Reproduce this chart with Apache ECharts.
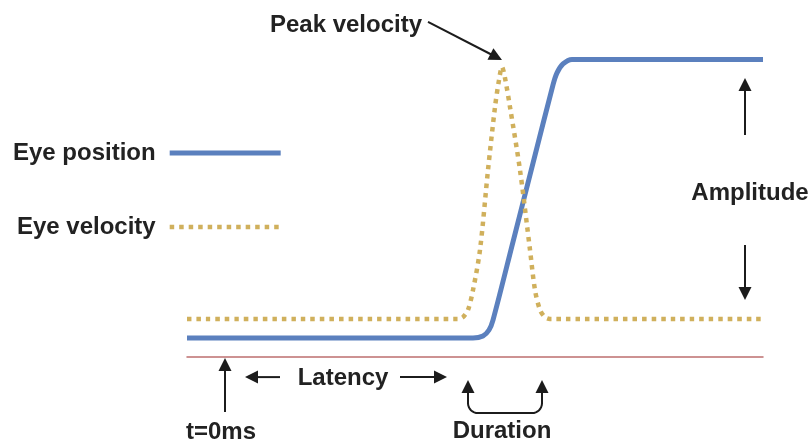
<!DOCTYPE html>
<html><head><meta charset="utf-8">
<script src="https://cdn.jsdelivr.net/npm/echarts@6/dist/echarts.min.js"></script>
<style>html,body{margin:0;padding:0;background:#fff}#c{width:810px;height:443px}</style>
</head><body><div id="c"></div>
<script>
// time axis (arbitrary ms-like units) and signal level (0-100 % of amplitude)
const seriesNames = ['Eye position', 'Eye velocity'];
const positionX = [0, 143, 148, 151, 153, 163, 173, 183, 185, 188, 192.5, 288];
const positionY = [6.3, 6.3, 7, 9, 12.3, 38.4, 64.6, 90.7, 94.7, 97.7, 99.2, 99.2];
const velocityX = [0, 135.5, 138, 140.5, 143, 146.5, 150.5, 154, 156, 157.5, 159, 161.5, 166.5, 171.5, 174, 176.5, 179, 181.5, 288];
const velocityY = [12.7, 12.7, 13.3, 15.7, 22.3, 35.7, 62.3, 83.3, 92.3, 96.7, 93, 83.3, 62.3, 35.7, 22.3, 15.7, 13.3, 12.7, 12.7];

// annotation labels and arrows, anchored in data coordinates
const annotationLabels = [
  ['Peak velocity', 79.5, 110.7],
  ['Amplitude', 281.5, 54.7],
  ['t=0ms', 17, -25],
  ['Latency', 78, -7],
  ['Duration', 157.5, -24.7]
];
const annotationArrows = [
  [120.5, 111.7, 157.5, 99],
  [279, 74, 279, 93],
  [279, 37.3, 279, 19],
  [19, -18.3, 19, -0.3],
  [46.5, -6.7, 29, -6.7],
  [106.5, -6.7, 130, -6.7]
];
const durationBracket = [140.5, 177.5, -7.7, -18.7]; // left, right, tip level, bottom level

const FONT = "'Liberation Sans', Arial, sans-serif";
const INK = '#1c1c1c';
const BLUE = '#5b80be', GOLD = '#d0b05c';
const chart = echarts.init(document.getElementById('c'), null, {renderer: 'canvas'});

const zip = (xs, ys) => xs.map((x, i) => [x, ys[i]]);

chart.setOption({
  animation: false,
  backgroundColor: '#fff',
  grid: {left: 187, right: 47, top: 57, bottom: 86},
  xAxis: {type: 'value', min: 0, max: 288, axisLine: {show: true, lineStyle: {color: '#bd6f6f', width: 1.5}},
          axisTick: {show: false}, axisLabel: {show: false}, splitLine: {show: false}},
  yAxis: {type: 'value', min: 0, max: 100, show: false},
  legend: {
    orient: 'vertical', left: 13, top: 141, padding: 0, align: 'right',
    itemWidth: 111, itemHeight: 5, itemGap: 50,
    itemStyle: {color: 'rgba(0,0,0,0)', borderWidth: 0},
    textStyle: {fontSize: 24, fontWeight: 'bold', fontFamily: FONT, color: '#222', padding: [0, 9, 0, 0]},
    data: [
      {name: seriesNames[0], lineStyle: {width: 5, color: BLUE}},
      {name: seriesNames[1], lineStyle: {width: 4.5, color: GOLD, type: [4.5, 5]}}
    ]
  },
  series: [
    {name: seriesNames[0], type: 'line', data: zip(positionX, positionY), symbol: 'none', clip: false,
     smooth: 0.3,
     lineStyle: {color: BLUE, width: 5}, itemStyle: {color: BLUE}},
    {name: seriesNames[1], type: 'line', data: zip(velocityX, velocityY), symbol: 'none', clip: false,
     smooth: 0.3,
     lineStyle: {color: GOLD, width: 4.5, type: [4.5, 5], cap: 'butt'}, itemStyle: {color: GOLD}}
  ]
});

const px = (x, y) => chart.convertToPixel({gridIndex: 0}, [x, y]);
const graphics = [];
function addArrow(p1, p2) {
  const dx = p2[0] - p1[0], dy = p2[1] - p1[1], L = Math.hypot(dx, dy);
  const ux = dx / L, uy = dy / L, hl = 13, hw = 6.5;
  const bx = p2[0] - ux * hl, by = p2[1] - uy * hl;
  graphics.push({type: 'line', silent: true, shape: {x1: p1[0], y1: p1[1], x2: bx + ux, y2: by + uy},
                 style: {stroke: INK, lineWidth: 2}});
  graphics.push({type: 'polygon', silent: true,
                 shape: {points: [[p2[0], p2[1]], [bx - uy * hw, by + ux * hw], [bx + uy * hw, by - ux * hw]]},
                 style: {fill: INK}});
}
annotationArrows.forEach(a => addArrow(px(a[0], a[1]), px(a[2], a[3])));
// duration bracket (rounded U shape with arrow heads at both tops)
(function () {
  const [l, r, tipV, botV] = durationBracket;
  const L = px(l, tipV), R = px(r, tipV), B = px(l, botV)[1];
  const baseY = L[1] + 12, rad = 10, pts = [[L[0], baseY]];
  for (let i = 0; i <= 8; i++) {
    const a = Math.PI - (i / 8) * Math.PI / 2;
    pts.push([L[0] + rad + rad * Math.cos(a), B - rad + rad * Math.sin(a)]);
  }
  for (let i = 0; i <= 8; i++) {
    const a = Math.PI / 2 - (i / 8) * Math.PI / 2;
    pts.push([R[0] - rad + rad * Math.cos(a), B - rad + rad * Math.sin(a)]);
  }
  pts.push([R[0], baseY]);
  graphics.push({type: 'polyline', silent: true, shape: {points: pts}, style: {stroke: INK, lineWidth: 2, fill: null}});
  [L, R].forEach(p => graphics.push({type: 'polygon', silent: true,
    shape: {points: [[p[0], p[1]], [p[0] - 6.5, p[1] + 13], [p[0] + 6.5, p[1] + 13]]}, style: {fill: INK}}));
})();
annotationLabels.forEach(([t, x, y]) => {
  const p = px(x, y);
  graphics.push({type: 'text', silent: true, x: p[0], y: p[1],
    style: {text: t, fill: '#222', font: `bold 24px ${FONT}`, textAlign: 'center', textVerticalAlign: 'middle'}});
});
chart.setOption({graphic: graphics});
</script></body></html>
